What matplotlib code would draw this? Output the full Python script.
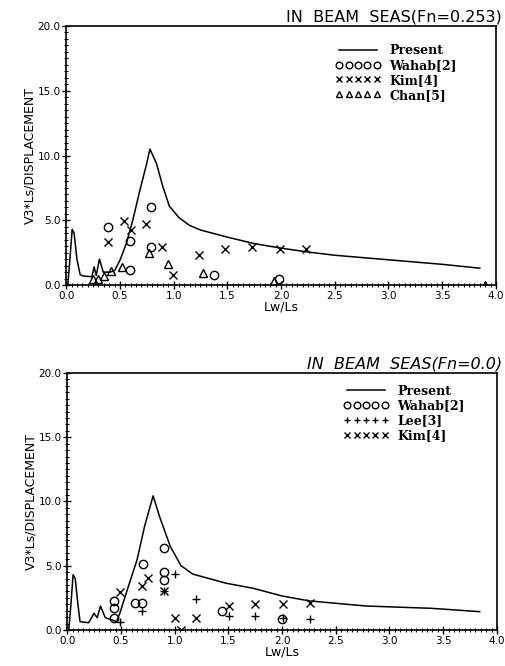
import matplotlib
matplotlib.use('Agg')
import matplotlib.pyplot as plt
from matplotlib.ticker import MultipleLocator

# Curva "Present" (Fn=0.253)
x_top = [0.015, 0.035, 0.056, 0.074, 0.10, 0.13, 0.16, 0.24, 0.26, 0.28, 0.31, 0.345,
         0.38, 0.41, 0.45, 0.50, 0.56, 0.62, 0.68, 0.75, 0.78, 0.84, 0.90, 0.96, 1.05,
         1.15, 1.25, 1.5, 1.75, 2.0, 2.25, 2.5, 3.0, 3.5, 3.85]
y_top = [0.0, 2.0, 4.3, 4.0, 2.0, 0.8, 0.7, 0.64, 1.4, 0.75, 2.0, 1.0,
         1.0, 1.0, 1.1, 1.9, 3.2, 5.0, 7.1, 9.4, 10.5, 9.4, 7.6, 6.1, 5.2,
         4.6, 4.25, 3.7, 3.2, 2.85, 2.55, 2.3, 1.95, 1.6, 1.3]

# Datos experimentales (Fn=0.253)
wahab_top_x = [0.39, 0.59, 0.59, 0.79, 0.79, 1.38, 1.98]
wahab_top_y = [4.5, 3.4, 1.2, 6.05, 2.95, 0.75, 0.45]
kim_top_x = [0.39, 0.54, 0.60, 0.74, 0.89, 0.99, 1.24, 1.48, 1.73, 1.99, 2.23]
kim_top_y = [3.35, 4.95, 4.25, 4.7, 2.95, 0.75, 2.3, 2.75, 2.9, 2.8, 2.75]
chan_top_x = [0.25, 0.30, 0.35, 0.42, 0.52, 0.77, 0.95, 1.27, 1.93, 3.9]
chan_top_y = [0.45, 0.5, 0.7, 1.05, 1.4, 2.45, 1.65, 0.95, 0.3, 0.0]

# Curva "Present" (Fn=0.0)
x_bot = [0.015, 0.035, 0.055, 0.075, 0.10, 0.12, 0.20, 0.25, 0.28, 0.31, 0.355, 0.42,
         0.46, 0.49, 0.57, 0.65, 0.72, 0.80, 0.86, 0.96, 1.06, 1.17, 1.48, 1.73,
         2.0, 2.25, 2.78, 3.39, 3.84]
y_bot = [0.0, 2.0, 4.3, 4.0, 2.0, 0.65, 0.57, 1.3, 0.96, 1.87, 0.96, 0.78,
         0.65, 1.3, 3.4, 5.45, 8.05, 10.44, 8.83, 6.5, 5.0, 4.35, 3.64, 3.25,
         2.65, 2.27, 1.87, 1.69, 1.43]

# Datos experimentales (Fn=0.0)
wahab_bot_x = [0.44, 0.44, 0.44, 0.63, 0.70, 0.71, 0.90, 0.90, 0.90, 1.44, 2.0]
wahab_bot_y = [0.9, 1.7, 2.25, 2.1, 2.1, 5.1, 6.4, 4.5, 3.9, 1.5, 0.85]
lee_bot_x = [0.49, 0.70, 0.90, 1.0, 1.2, 1.51, 1.75, 2.01, 2.26]
lee_bot_y = [0.65, 1.45, 3.0, 4.35, 2.4, 1.1, 1.1, 0.95, 0.85]
kim_bot_x = [0.49, 0.70, 0.75, 0.90, 1.0, 1.2, 1.51, 1.75, 2.01, 2.26, 1.06]
kim_bot_y = [2.95, 3.45, 4.05, 3.0, 0.95, 0.9, 1.9, 2.0, 2.05, 2.1, 0.0]

fig = plt.figure(figsize=(5.05, 6.66), dpi=100)
ax1 = fig.add_axes([0.131, 0.572, 0.851, 0.389])
ax2 = fig.add_axes([0.133, 0.054, 0.851, 0.386])

legend_font = {'family': 'DejaVu Serif', 'weight': 'bold', 'size': 9}
mk = dict(linestyle='none', color='black', markersize=6, markeredgewidth=1.0)


def formato(ax):
    ax.set_xlim(0, 4.0)
    ax.set_ylim(0, 20.0)
    ax.xaxis.set_major_locator(MultipleLocator(0.5))
    ax.xaxis.set_minor_locator(MultipleLocator(0.05))
    ax.yaxis.set_major_locator(MultipleLocator(5.0))
    ax.yaxis.set_minor_locator(MultipleLocator(0.5))
    ax.xaxis.set_major_formatter(plt.FormatStrFormatter('%.1f'))
    ax.yaxis.set_major_formatter(plt.FormatStrFormatter('%.1f'))
    ax.tick_params(which='major', direction='inout', length=6, width=1.0,
                   labelsize=7.5, pad=1)
    ax.tick_params(which='minor', direction='inout', length=3, width=0.8)
    for s in ax.spines.values():
        s.set_linewidth(1.2)
    ax.set_xlabel('Lw/Ls', fontsize=9, labelpad=0)
    ax.set_ylabel('V3*Ls/DISPLACEMENT', fontsize=9, labelpad=1)


leg_kw = dict(loc='upper left', frameon=False, prop=legend_font, numpoints=5,
              markerscale=0.8, handlelength=3.6, handletextpad=0.7,
              labelspacing=0.15, borderpad=0, borderaxespad=0)

# Panel superior
ax1.plot(x_top, y_top, color='black', linewidth=1.1, label='Present')
ax1.plot(wahab_top_x, wahab_top_y, marker='o', markerfacecolor='none', label='Wahab[2]', **mk)
ax1.plot(kim_top_x, kim_top_y, marker='x', label='Kim[4]', **mk)
ax1.plot(chan_top_x, chan_top_y, marker='^', markerfacecolor='none', label='Chan[5]', **mk)
formato(ax1)
ax1.legend(bbox_to_anchor=(0.627, 0.93), **leg_kw)
fig.text(502 / 505, 0.967, 'IN  BEAM  SEAS(Fn=0.253)', ha='right', va='baseline',
         fontsize=11.5)

# Panel inferior
ax2.plot(x_bot, y_bot, color='black', linewidth=1.1, label='Present')
ax2.plot(wahab_bot_x, wahab_bot_y, marker='o', markerfacecolor='none', label='Wahab[2]', **mk)
ax2.plot(lee_bot_x, lee_bot_y, marker='+', label='Lee[3]', **mk)
ax2.plot(kim_bot_x, kim_bot_y, marker='x', label='Kim[4]', **mk)
formato(ax2)
ax2.legend(bbox_to_anchor=(0.643, 0.955), **leg_kw)
fig.text(502 / 505, 0.447, 'IN  BEAM  SEAS(Fn=0.0)', ha='right', va='baseline',
         fontsize=11.5, fontstyle='italic')

fig.savefig('out.png', dpi=100)
